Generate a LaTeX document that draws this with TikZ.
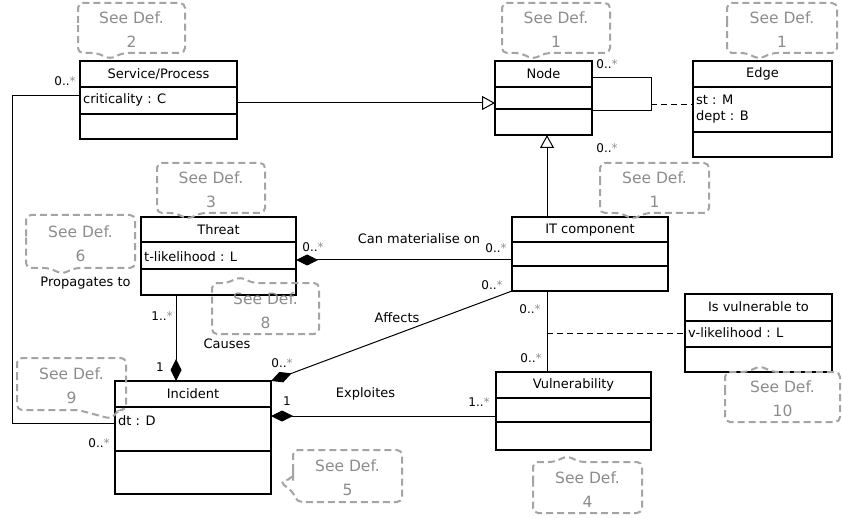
\documentclass[tikz,border=0pt]{standalone}
\usepackage{fontspec}
\setmainfont{DejaVu Sans}
\usetikzlibrary{arrows.meta,shadows}
\definecolor{defgray}{HTML}{A4A4A4}
\definecolor{deftxt}{HTML}{8C8C8C}
\definecolor{stargray}{HTML}{909090}
\newcommand\umlbox[7]{%
  \node[clsbox, minimum width={#4-#2}, minimum height={#5-#3}, anchor=north west] (#1) at (#2,#3) {};
  \draw[clsline] (#2,#6) -- (#4,#6) (#2,#7) -- (#4,#7);}
\newcommand\defdown[7]{%
  \node[deftext] (#1) at ({(#2+#4)/2},{(#3+#5)/2+2}) {See Def.\\#7};
  \draw[defline] (#2,{(#3+#5)/2}) -- (#2,#3) -- (#4,#3) -- (#4,#5) -- (#6+13,#5) -- (#6,#5+6) -- (#6-13,#5) -- (#2,#5) -- cycle;}
\newcommand\defup[7]{%
  \node[deftext] (#1) at ({(#2+#4)/2},{(#3+#5)/2+2}) {See Def.\\#7};
  \draw[defline] (#2,{(#3+#5)/2}) -- (#2,#3) -- (#6-13,#3) -- (#6,#3-6) -- (#6+13,#3) -- (#4,#3) -- (#4,#5) -- (#2,#5) -- cycle;}
\newcommand\mult{0..{\color{stargray}*}}
\newcommand\multb{1..{\color{stargray}*}}
\tikzset{
  clsbox/.style={draw, line width=1.1pt, fill=white, inner sep=0pt, outer sep=0pt,
    drop shadow={shadow xshift=1.2pt, shadow yshift=-1.2pt, opacity=0.25}},
  clsline/.style={line width=1.1pt},
  conn/.style={line width=1pt},
  gen/.style={conn, -{Triangle[open, length=13pt, width=14pt, fill=white]}},
  compS/.style={conn, {Diamond[length=22pt, width=11pt]}-},
  compE/.style={conn, -{Diamond[length=22pt, width=11pt]}},
  dashc/.style={conn, dash pattern=on 6pt off 4pt},
  ttl/.style={font=\fontsize{13}{15}\selectfont, inner sep=0pt},
  attr/.style={font=\fontsize{13}{15}\selectfont, inner sep=0pt, anchor=west},
  lbl/.style={font=\fontsize{13}{15}\selectfont, inner sep=0pt},
  mul/.style={font=\fontsize{12}{14}\selectfont, inner sep=0pt},
  deftext/.style={font=\fontsize{15.5}{24}\selectfont, text=deftxt, align=center, inner sep=0pt},
  defline/.style={draw=defgray, line width=2pt, dash pattern=on 7pt off 4pt, rounded corners=5pt},
}
\begin{document}
\begin{tikzpicture}[x=1pt, y=-1pt]
\useasboundingbox (0,0) rectangle (842,518);
\fill[white] (0,0) rectangle (842,518);

% ---- helper coordinates ----
\coordinate (g1) at (0,103);
\coordinate (gx) at (547,0);
\coordinate (lp1) at (651,78);
\coordinate (lp2) at (651,111);
\coordinate (lpm) at (651,105);
\coordinate (sv1) at (12,96);
\coordinate (sv2) at (12,423);
\coordinate (ca) at (176,0);
\coordinate (cm) at (0,260);
\coordinate (ex) at (0,416);
\coordinate (dv) at (547,333);

% ---- classes ----
\umlbox{svc}{80}{61}{237}{139}{87}{114}
\umlbox{nd}{495}{61}{592}{135}{87}{109}
\umlbox{edge}{693}{61}{832}{157}{87}{132}
\umlbox{thr}{141}{217}{296}{295}{242}{269}
\umlbox{itc}{512}{217}{668}{291}{242}{266}
\umlbox{isv}{685}{294}{832}{372}{321}{347}
\umlbox{inc}{115}{381}{271}{494}{407}{451}
\umlbox{vul}{496}{372}{651}{450}{398}{422}

\node[ttl] (svc-t) at (158.5,74) {Service/Process};
\node[attr] (svc-a) at (83,100) {criticality : C};
\node[ttl] (nd-t) at (543.5,74) {Node};
\node[ttl] (edge-t) at (762.5,74) {Edge};
\node[attr] (edge-a) at (696,100) {st : M};
\node[attr] (edge-b) at (696,117) {dept : B};
\node[ttl] (thr-t) at (218.5,230) {Threat};
\node[attr] (thr-a) at (144,257) {t-likelihood : L};
\node[ttl] (itc-t) at (590,230) {IT component};
\node[ttl] (isv-t) at (758.5,307) {Is vulnerable to};
\node[attr] (isv-a) at (688,333) {v-likelihood : L};
\node[ttl] (inc-t) at (193,394) {Incident};
\node[attr] (inc-a) at (118,421) {dt : D};
\node[ttl] (vul-t) at (573.5,385) {Vulnerability};

% ---- connectors ----
\draw[gen] (svc.east |- g1) -- (nd.west |- g1);
\draw[gen] (itc.north -| gx) -- (nd.south -| gx);
\draw[conn] (nd.east |- lp1) -- (lp1) -- (lp2) -- (nd.east |- lp2);
\draw[dashc] (lpm) -- (edge.west |- lpm);
\draw[conn] (svc.west |- sv1) -- (sv1) -- (sv2) -- (inc.west |- sv2);
\draw[compE] (thr.south -| ca) -- (inc.north -| ca);
\draw[compS] (thr.east |- cm) -- (itc.west |- cm);
\draw[compE] (itc.south west) -- (inc.north east);
\draw[compS] (inc.east |- ex) -- (vul.west |- ex);
\draw[conn] (itc.south -| gx) -- (vul.north -| gx);
\draw[dashc] (dv) -- (isv.west |- dv);

% ---- labels ----
\node[mul] (m1) at (65,81) {\mult};
\node[mul] (m2) at (607,64) {\mult};
\node[mul] (m3) at (607,148) {\mult};
\node[mul] (m4) at (313,247) {\mult};
\node[mul] (m5) at (496,248) {\mult};
\node[mul] (m6) at (492,285) {\mult};
\node[mul] (m7) at (530,309) {\mult};
\node[mul] (m8) at (531,358) {\mult};
\node[mul] (m9) at (162,316) {\multb};
\node[mul] (m10) at (160,367) {1};
\node[mul] (m11) at (282,363) {\mult};
\node[mul] (m12) at (287,401) {1};
\node[mul] (m13) at (479,402) {\multb};
\node[mul] (m14) at (99,443) {\mult};
\node[lbl] (l1) at (85.5,283) {Propagates to};
\node[lbl] (l2) at (227,344) {Causes};
\node[lbl] (l3) at (419,239) {Can materialise on};
\node[lbl] (l4) at (397,318) {Affects};
\node[lbl] (l5) at (365.5,394) {Exploites};

% ---- callouts (on top) ----
\defdown{d2}{78}{3}{185}{53}{110}{2}
\defdown{dnode}{502}{3}{610}{53}{533}{1}
\defdown{dedge}{727}{3}{837}{53}{759}{1}
\defdown{d3}{157}{163}{265}{213}{188}{3}
\defdown{dit}{600}{163}{709}{213}{633}{1}
\defdown{d6}{26}{215}{135}{268}{62}{6}
\defup{d8}{212}{283}{319}{334}{240}{8}
\defup{d4}{533}{462}{642}{513}{567}{4}
\defup{d10}{725}{372}{840}{422}{760}{10}
\node[deftext] (d9) at (71.5,386) {See Def.\\9};
\draw[defline] (17,384) -- (17,358) -- (126,358) -- (126,410) -- (118,410) -- (112,419) -- (78,410) -- (17,410) -- cycle;
\node[deftext] (d5) at (347.5,478) {See Def.\\5};
\draw[defline] (293,476) -- (293,450) -- (402,450) -- (402,502) -- (297,502) -- (293,492) -- (280,482) -- (293,478) -- cycle;
\end{tikzpicture}
\end{document}
